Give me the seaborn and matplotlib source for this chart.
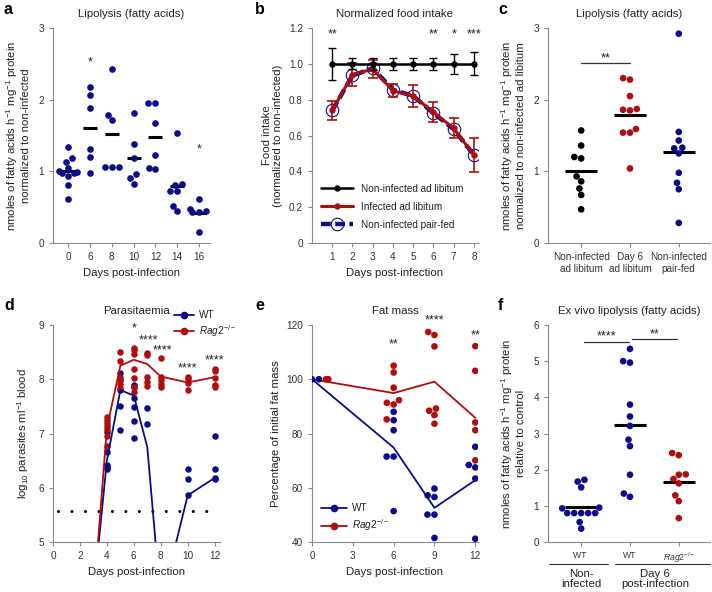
import numpy as np
import pandas as pd
import matplotlib
matplotlib.use("Agg")
import matplotlib.pyplot as plt
import matplotlib.transforms as mtrans
import seaborn as sns
from matplotlib.lines import Line2D

BLUE = "#0c0c8a"
RED = "#b00d0d"
BLACK = "#000000"

# ---- panel a: lipolysis over infection ----
a_days = ["0", "6", "8", "10", "12", "14", "16"]
a_values = [
    [1.34, 1.19, 1.13, 1.04, 1.01, 0.99, 0.98, 0.97, 0.93, 0.81, 0.62],
    [2.17, 2.07, 1.88, 1.31, 1.20, 0.98],
    [2.43, 1.79, 1.71, 1.06, 1.06, 1.06],
    [1.82, 1.38, 1.19, 0.96, 0.91, 0.83],
    [1.95, 1.95, 1.67, 1.23, 1.05, 1.03],
    [1.53, 0.82, 0.81, 0.72, 0.72, 0.51, 0.44],
    [0.61, 0.48, 0.44, 0.43, 0.43, 0.16],
]
a_stars = [("6", 2.52, "*"), ("16", 1.30, "*")]

# ---- panel b: normalized food intake ----
b_days = [1, 2, 3, 4, 5, 6, 7, 8]
b_adlib = [1.0, 1.0, 1.0, 1.0, 1.0, 1.0, 1.0, 1.0]
b_adlib_err = [0.088, 0.03, 0.035, 0.035, 0.035, 0.035, 0.055, 0.065]
b_infected = [0.74, 0.94, 0.97, 0.85, 0.82, 0.73, 0.64, 0.49]
b_infected_err = [0.055, 0.065, 0.05, 0.035, 0.06, 0.055, 0.055, 0.095]
b_pairfed = [0.74, 0.935, 0.975, 0.855, 0.82, 0.725, 0.635, 0.49]
b_stars = [(1, "**"), (6, "**"), (7, "*"), (8, "***")]

# ---- panel c: lipolysis, pair-feeding ----
c_groups = ["Non-infected\nad libitum", "Day 6\nad libitum", "Non-infected\npair-fed"]
c_values = [
    [1.57, 1.36, 1.20, 1.18, 0.93, 0.86, 0.76, 0.67, 0.47],
    [2.30, 2.28, 2.05, 1.87, 1.86, 1.85, 1.59, 1.54, 1.54, 1.04],
    [2.92, 1.55, 1.43, 1.33, 1.32, 1.25, 0.98, 0.84, 0.75, 0.28],
]

# ---- panel d: parasitaemia ----
d_wt_days = [4] * 5 + [5] * 5 + [6] * 6 + [7] * 2 + [10] * 3 + [12] * 4
d_wt_vals = [7.03, 6.65, 6.42, 6.38, 6.35,
             8.12, 7.98, 7.80, 7.50, 7.07,
             7.89, 7.86, 7.65, 7.48, 7.23, 6.91,
             7.47, 7.17,
             6.35, 6.17, 5.86,
             6.96, 6.35, 6.18, 6.17]
d_rag_days = [4] * 7 + [5] * 6 + [6] * 7 + [7] * 5 + [8] * 5 + [10] * 4 + [12] * 5
d_rag_vals = [7.30, 7.25, 7.20, 7.14, 7.08, 6.96, 6.77,
              8.51, 8.34, 8.05, 7.99, 7.92, 7.83,
              8.58, 8.53, 8.47, 8.18, 8.03, 7.85, 7.77,
              8.49, 8.44, 8.05, 7.95, 7.88,
              8.39, 8.05, 7.98, 7.91, 7.86,
              8.05, 8.00, 7.93, 7.80,
              8.19, 8.16, 8.02, 7.90, 7.86]
d_wt_line_days = [3, 4, 5, 6, 7, 8, 9, 10, 12]
d_wt_line = [4.0, 6.5, 7.8, 7.7, 6.75, 3.9, 4.85, 5.86, 6.18]
d_rag_line_days = [3, 4, 5, 6, 7, 8, 10, 12]
d_rag_line = [3.9, 7.1, 8.25, 8.36, 8.28, 8.05, 7.94, 8.04]
d_limit = 5.57
d_stars = [(6, 8.93, "*"), (7.1, 8.72, "****"), (8.1, 8.54, "****"),
           (10, 8.2, "****"), (12, 8.35, "****")]

# ---- panel e: fat mass ----
e_wt_days = [0] * 3 + [6] * 6 + [9] * 6 + [12] * 5
e_wt_vals = [100, 100, 100,
             88.0, 84.9, 81.2, 71.5, 71.5, 51.4,
             59.7, 57.2, 56.6, 50.1, 50.1, 41.5,
             75.1, 68.4, 67.5, 63.4, 41.2]
e_rag_days = [0] * 4 + [6] * 7 + [9] * 7 + [12] * 5
e_rag_vals = [100, 100, 100, 100,
              105.0, 102.5, 96.9, 92.3, 91.3, 90.7, 85.2,
              117.4, 116.3, 112.1, 89.2, 88.4, 86.8, 83.6,
              112.2, 103.1, 84.1, 81.2, 70.1]
e_line_days = [0, 6, 9, 12]
e_wt_line = [100, 74.8, 52.6, 62.8]
e_rag_line = [100, 94.9, 99.1, 85.8]
e_stars = [(6, 113, "**"), (9, 121.5, "****"), (12, 116, "**")]

# ---- panel f: ex vivo lipolysis ----
f_groups = ["WT ", "WT", r"$\mathit{Rag2}^{-/-}$"]
f_values = [
    [1.72, 1.67, 1.51, 0.95, 0.93, 0.80, 0.80, 0.80, 0.80, 0.80, 0.55, 0.37],
    [5.34, 5.00, 4.96, 3.80, 3.47, 3.21, 2.83, 2.65, 1.86, 1.34, 1.25],
    [2.46, 2.40, 1.87, 1.86, 1.74, 1.62, 1.29, 1.13, 0.66],
]

sns.set_style("ticks")
plt.rcParams["font.family"] = ["Liberation Sans", "DejaVu Sans"]
plt.rcParams.update({
    "mathtext.fontset": "custom",
    "mathtext.rm": "Liberation Sans",
    "mathtext.it": "Liberation Sans:italic",
    "axes.edgecolor": "#8a8a8a",
    "axes.linewidth": 0.8,
    "xtick.color": "#8a8a8a",
    "ytick.color": "#8a8a8a",
    "xtick.labelcolor": "#333333",
    "ytick.labelcolor": "#333333",
    "xtick.major.size": 3,
    "ytick.major.size": 3,
    "xtick.labelsize": 7.2,
    "ytick.labelsize": 7.2,
    "axes.labelsize": 8.2,
    "axes.titlesize": 8.2,
    "axes.labelcolor": "#222222",
    "text.color": "#222222",
})
STAR = 9

fig = plt.figure(figsize=(7.12, 5.92), dpi=100)


def px_axes(left, top, right, bottom):
    return fig.add_axes([left / 712, 1 - bottom / 592, (right - left) / 712, (bottom - top) / 592])


def long_df(groups, values):
    return pd.DataFrame({
        "group": np.repeat(groups, [len(v) for v in values]),
        "val": np.concatenate(values),
    })


def style(ax, title, letter, ly):
    sns.despine(ax=ax)
    ax.set_title(title, pad=8)
    fig.text(ly[0] / 712, 1 - ly[1] / 592, letter, fontsize=11.5, fontweight="bold",
             color="black", ha="left", va="center")


# a
ax = px_axes(53, 28, 210, 243)
df = long_df(a_days, a_values)
sns.swarmplot(data=df, x="group", y="val", order=a_days, color=BLUE, size=4.8, ax=ax)
sns.pointplot(data=df, x="group", y="val", order=a_days, errorbar=None, color="black",
              linestyle="none", marker="_", markersize=10.5, markeredgewidth=2.2, ax=ax)
for d, y, s in a_stars:
    ax.text(a_days.index(d), y, s, ha="center", va="center", fontsize=STAR)
ax.set_xlim(-0.69, 6.5)
ax.set_ylim(0, 3)
ax.set_yticks([0, 1, 2, 3])
ax.set_xlabel("Days post-infection")
ax.set_ylabel("nmoles of fatty acids h$^{-1}$ mg$^{-1}$ protein\nnormalized to non-infected", labelpad=5)
style(ax, "Lipolysis (fatty acids)", "a", (4, 10))

# b
ax = px_axes(312, 28, 478, 243)
pf, = ax.plot(b_days, b_pairfed, color=BLUE, lw=3.2, ls=(0, (2.2, 1.0)), marker="o", ms=9,
              mfc="none", mec=BLUE, mew=0.8, zorder=2)
eb_r = ax.errorbar(b_days, b_infected, yerr=b_infected_err, color=RED, lw=2.2, marker="o", ms=3.6,
                   capsize=3.5, elinewidth=1.2, capthick=1.2, zorder=3)
eb_k = ax.errorbar(b_days, b_adlib, yerr=b_adlib_err, color=BLACK, lw=1.8, marker="o", ms=3.6,
                   capsize=3.0, elinewidth=1.0, capthick=1.0, zorder=4)
for d, s in b_stars:
    ax.text(d, 1.165, s, ha="center", va="center", fontsize=STAR)
ax.legend([eb_k.lines[0], eb_r.lines[0], pf],
          ["Non-infected ad libitum", "Infected ad libitum", "Non-infected pair-fed"],
          loc="lower left", bbox_to_anchor=(0.0, 0.02), frameon=False, fontsize=7.2,
          handlelength=3.2, labelspacing=0.8)
ax.set_xlim(0, 8.2)
ax.set_ylim(0, 1.2)
ax.set_xticks(b_days)
ax.set_yticks([0, 0.2, 0.4, 0.6, 0.8, 1.0, 1.2])
ax.set_yticklabels(["0", "0.2", "0.4", "0.6", "0.8", "1.0", "1.2"])
ax.set_xlabel("Days post-infection")
ax.set_ylabel("Food intake\n(normalized to non-infected)")
style(ax, "Normalized food intake", "b", (255, 10))

# c
ax = px_axes(548, 28, 710, 243)
df = long_df(c_groups, c_values)
sns.swarmplot(data=df, x="group", y="val", order=c_groups, hue="group",
              palette=[BLACK, RED, BLUE], size=4.8, legend=False, ax=ax)
sns.pointplot(data=df, x="group", y="val", order=c_groups, errorbar=None, color="black",
              linestyle="none", marker="_", markersize=23, markeredgewidth=2.2, ax=ax)
ax.plot([0, 1], [2.51, 2.51], color="#333333", lw=0.9)
ax.text(0.5, 2.58, "**", ha="center", va="center", fontsize=STAR)
ax.set_xlim(-0.68, 2.64)
ax.set_ylim(0, 3)
ax.set_yticks([0, 1, 2, 3])
ax.set_xlabel("")
ax.set_ylabel("nmoles of fatty acids h$^{-1}$ mg$^{-1}$ protein\nnormalized to non-infected ad libitum", labelpad=5)
style(ax, "Lipolysis (fatty acids)", "c", (498, 10))

# d
ax = px_axes(53, 325, 220, 542)
ax.hlines(d_limit, 0.37, 11.7, colors="black", lw=2.2, linestyles=(0, (0.01, 4.4)),
          capstyle="round")
sns.lineplot(x=d_wt_line_days, y=d_wt_line, color=BLUE, lw=1.3, ax=ax)
sns.lineplot(x=d_rag_line_days, y=d_rag_line, color=RED, lw=1.3, ax=ax)
sns.scatterplot(x=d_wt_days, y=d_wt_vals, color=BLUE, s=22, linewidth=0, ax=ax)
sns.scatterplot(x=d_rag_days, y=d_rag_vals, color=RED, s=22, linewidth=0, ax=ax)
for d, y, s in d_stars:
    ax.text(d, y, s, ha="center", va="center", fontsize=STAR)
ax.legend([Line2D([], [], color=BLUE, marker="o", ms=4.5, lw=1.3),
           Line2D([], [], color=RED, marker="o", ms=4.5, lw=1.3)],
          ["WT", r"$\mathit{Rag2}^{-/-}$"], loc="upper right", bbox_to_anchor=(1.15, 1.11),
          frameon=False, fontsize=7.2, handlelength=2.0, handletextpad=0.5, labelspacing=0.3)
ax.set_xlim(0, 12.4)
ax.set_ylim(5, 9)
ax.set_xticks([0, 2, 4, 6, 8, 10, 12])
ax.set_yticks([5, 6, 7, 8, 9])
ax.set_xlabel("Days post-infection")
ax.set_ylabel("log$_{10}$ parasites ml$^{-1}$ blood", labelpad=5)
style(ax, "Parasitaemia", "d", (4, 305))

# e
ax = px_axes(312, 325, 478, 542)
df = pd.DataFrame({"day": e_wt_days + e_rag_days, "val": e_wt_vals + e_rag_vals,
                   "geno": ["WT"] * len(e_wt_days) + ["Rag2"] * len(e_rag_days)})
sns.lineplot(x=e_line_days, y=e_wt_line, color=BLUE, lw=1.3, ax=ax)
sns.lineplot(x=e_line_days, y=e_rag_line, color=RED, lw=1.3, ax=ax)
sns.swarmplot(data=df, x="day", y="val", hue="geno", palette={"WT": BLUE, "Rag2": RED},
              native_scale=True, orient="x", size=4.8, legend=False, ax=ax)
for d, y, s in e_stars:
    ax.text(d, y, s, ha="center", va="center", fontsize=STAR)
ax.legend([Line2D([], [], color=BLUE, marker="o", ms=4.5, lw=1.3),
           Line2D([], [], color=RED, marker="o", ms=4.5, lw=1.3)],
          ["WT", r"$\mathit{Rag2}^{-/-}$"], loc="lower left", bbox_to_anchor=(0.0, 0.0),
          frameon=False, fontsize=7.2, handlelength=2.6, handletextpad=0.5, labelspacing=0.4)
ax.set_xlim(0, 12.2)
ax.set_ylim(40, 120)
ax.set_xticks([0, 3, 6, 9, 12])
ax.set_yticks([40, 60, 80, 100, 120])
ax.set_xlabel("Days post-infection")
ax.set_ylabel("Percentage of initial fat mass")
style(ax, "Fat mass", "e", (255, 305))

# f
ax = px_axes(548, 325, 710, 542)
df = long_df(f_groups, f_values)
sns.swarmplot(data=df, x="group", y="val", order=f_groups, hue="group",
              palette=[BLUE, BLUE, RED], size=4.8, legend=False, ax=ax)
sns.pointplot(data=df, x="group", y="val", order=f_groups, errorbar=None, color="black",
              linestyle="none", marker="_", markersize=23, markeredgewidth=2.2, ax=ax)
ax.plot([0.06, 0.98], [5.54, 5.54], color="#333333", lw=0.9)
ax.text(0.52, 5.67, "****", ha="center", va="center", fontsize=STAR)
ax.plot([1.04, 1.96], [5.61, 5.61], color="#333333", lw=0.9)
ax.text(1.5, 5.74, "**", ha="center", va="center", fontsize=STAR)
ax.set_xlim(-0.68, 2.64)
ax.set_ylim(0, 6)
ax.set_yticks([0, 1, 2, 3, 4, 5, 6])
ax.set_xlabel("")
ax.set_ylabel("nmoles of fatty acids h$^{-1}$ mg$^{-1}$ protein\nrelative to control", labelpad=5)
ax.tick_params(axis="x", labelsize=6.2)
tr = mtrans.blended_transform_factory(ax.transData, ax.transAxes)
ax.plot([-0.65, 0.55], [-0.1, -0.1], transform=tr, color="#333333", lw=0.8, clip_on=False)
ax.plot([0.7, 2.64], [-0.1, -0.1], transform=tr, color="#333333", lw=0.8, clip_on=False)
ax.text(0, -0.125, "Non-\ninfected", transform=tr, ha="center", va="top", fontsize=8.2, linespacing=1.0)
ax.text(1.52, -0.125, "Day 6\npost-infection", transform=tr, ha="center", va="top", fontsize=8.2,
        linespacing=1.0)
style(ax, "Ex vivo lipolysis (fatty acids)", "f", (498, 305))

fig.savefig("out.png", dpi=100)
